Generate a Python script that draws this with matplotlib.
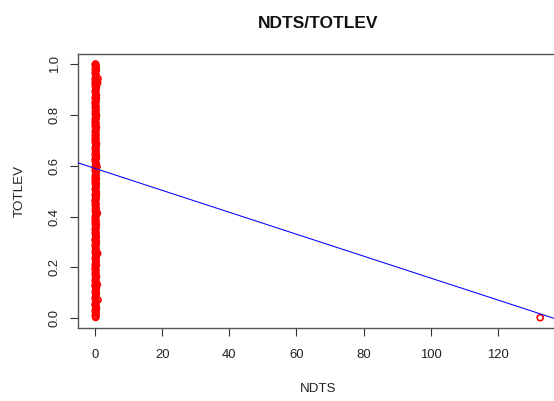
import matplotlib
matplotlib.use("Agg")
import matplotlib.pyplot as plt

plt.rcParams["font.family"] = ["Liberation Sans", "DejaVu Sans"]

# Observations clustered near NDTS = 0
totlev_col = [
    0.003, 0.011, 0.018, 0.024, 0.031, 0.042, 0.049, 0.055, 0.063, 0.071, 0.078, 0.086, 0.094, 0.101, 0.109, 0.117,
    0.126, 0.133, 0.141, 0.148, 0.157, 0.165, 0.172, 0.180, 0.188, 0.197, 0.204, 0.212, 0.221, 0.229, 0.236, 0.244,
    0.253, 0.261, 0.268, 0.277, 0.285, 0.292, 0.301, 0.309, 0.316, 0.325, 0.333, 0.341, 0.349, 0.356, 0.364, 0.373,
    0.381, 0.388, 0.397, 0.405, 0.412, 0.421, 0.429, 0.436, 0.445, 0.453, 0.461, 0.468, 0.477, 0.485, 0.493, 0.501,
    0.508, 0.517, 0.525, 0.532, 0.541, 0.549, 0.557, 0.564, 0.573, 0.581, 0.589, 0.596, 0.605, 0.613, 0.621, 0.629,
    0.636, 0.645, 0.653, 0.661, 0.668, 0.677, 0.684, 0.693, 0.701, 0.708, 0.717, 0.725, 0.733, 0.741, 0.748, 0.757,
    0.765, 0.772, 0.781, 0.789, 0.797, 0.804, 0.813, 0.821, 0.829, 0.836, 0.845, 0.853, 0.861, 0.868, 0.877, 0.885,
    0.893, 0.901, 0.908, 0.917, 0.925, 0.932, 0.941, 0.949, 0.957, 0.964, 0.973, 0.981, 0.989, 0.994, 0.998, 1.000,
]
ndts_col = [
    0.1, 0.0, 0.2, 0.1, 0.0, 0.3, 0.1, 0.0, 0.2, 0.1, 0.0, 0.1, 0.2, 0.0, 0.1, 0.3,
    0.0, 0.2, 0.1, 0.0, 0.1, 0.3, 0.0, 0.1, 0.2, 0.0, 0.1, 0.0, 0.2, 0.1, 0.0, 0.3,
    0.1, 0.0, 0.2, 0.1, 0.0, 0.1, 0.3, 0.0, 0.1, 0.2, 0.0, 0.1, 0.0, 0.2, 0.1, 0.0,
    0.2, 0.1, 0.0, 0.1, 0.3, 0.0, 0.1, 0.2, 0.0, 0.1, 0.0, 0.2, 0.1, 0.0, 0.3, 0.1,
    0.0, 0.2, 0.1, 0.0, 0.1, 0.3, 0.0, 0.1, 0.2, 0.0, 0.1, 0.0, 0.2, 0.1, 0.0, 0.3,
    0.1, 0.0, 0.2, 0.1, 0.0, 0.1, 0.3, 0.0, 0.1, 0.2, 0.0, 0.1, 0.0, 0.2, 0.1, 0.0,
    0.2, 0.1, 0.0, 0.1, 0.3, 0.0, 0.1, 0.2, 0.0, 0.1, 0.0, 0.2, 0.1, 0.0, 0.3, 0.1,
    0.0, 0.2, 0.1, 0.0, 0.1, 0.3, 0.0, 0.1, 0.2, 0.0, 0.1, 0.0, 0.2, 0.1, 0.0, 0.1,
]

# Second pass of values filling between the first
totlev_fill = [
    0.007, 0.021, 0.036, 0.052, 0.067, 0.082, 0.098, 0.113, 0.129, 0.144, 0.161, 0.176, 0.192, 0.208, 0.225, 0.240,
    0.257, 0.272, 0.289, 0.305, 0.320, 0.337, 0.353, 0.369, 0.384, 0.401, 0.417, 0.432, 0.449, 0.465, 0.481, 0.497,
    0.512, 0.529, 0.545, 0.561, 0.577, 0.592, 0.609, 0.625, 0.641, 0.657, 0.672, 0.689, 0.705, 0.721, 0.737, 0.752,
    0.769, 0.785, 0.801, 0.817, 0.832, 0.849, 0.865, 0.881, 0.897, 0.912, 0.929, 0.945, 0.961, 0.977, 0.985, 0.996,
]
ndts_fill = [
    0.2, 0.1, 0.3, 0.0, 0.2, 0.1, 0.3, 0.2, 0.0, 0.2, 0.3, 0.1, 0.0, 0.3, 0.2, 0.1,
    0.3, 0.1, 0.2, 0.0, 0.3, 0.2, 0.1, 0.3, 0.0, 0.2, 0.3, 0.1, 0.2, 0.0, 0.3, 0.2,
    0.1, 0.3, 0.0, 0.2, 0.3, 0.1, 0.2, 0.0, 0.3, 0.1, 0.2, 0.3, 0.0, 0.2, 0.1, 0.3,
    0.0, 0.2, 0.3, 0.1, 0.2, 0.0, 0.3, 0.2, 0.1, 0.3, 0.0, 0.2, 0.1, 0.3, 0.2, 0.1,
]

# A few observations slightly to the right of the main cluster
ndts_near = [0.7, 0.8, 0.6, 0.7, 0.6, 0.8, 0.5]
totlev_near = [0.925, 0.942, 0.413, 0.255, 0.132, 0.072, 0.596]

# Single large-NDTS observation
ndts_out = [132.7]
totlev_out = [0.002]

# Least-squares fit TOTLEV ~ NDTS
fit_intercept = 0.589
fit_slope = -0.00431

x_ticks = [0, 20, 40, 60, 80, 100, 120]
y_ticks = [0.0, 0.2, 0.4, 0.6, 0.8, 1.0]

fig = plt.figure(figsize=(5.54, 4.01), dpi=100)
ax = fig.add_axes([0.1399, 0.1825, 0.8673, 0.6831])

all_x = ndts_col + ndts_fill + ndts_near + ndts_out
all_y = totlev_col + totlev_fill + totlev_near + totlev_out
ax.scatter(all_x, all_y, s=19, facecolors="none", edgecolors="#ff0000",
           linewidths=1.2, zorder=2)

ax.axline((0, fit_intercept), slope=fit_slope, color="#0000ff", lw=0.75, zorder=3)

# R-style 4% padding around the data range
xmin, xmax = min(all_x), max(all_x)
ymin, ymax = min(all_y), max(all_y)
xpad = 0.04 * (xmax - xmin)
ypad = 0.04 * (ymax - ymin)
ax.set_xlim(xmin - xpad, xmax + xpad)
ax.set_ylim(ymin - ypad, ymax + ypad)

ax.set_xticks(x_ticks)
ax.set_xticklabels([str(v) for v in x_ticks])
ax.set_yticks(y_ticks)
ax.set_yticklabels([f"{v:.1f}" for v in y_ticks], rotation=90, va="center")

for sp in ax.spines.values():
    sp.set_color("#555555")
    sp.set_linewidth(1.0)

ax.tick_params(axis="both", direction="out", length=6, width=0.8,
               color="#333333", labelsize=9.4, labelcolor="#222222")
ax.tick_params(axis="x", pad=9)
ax.tick_params(axis="y", pad=6)

ax.set_title("NDTS/TOTLEV", fontsize=12.5, fontweight="bold", pad=19, color="#111111")
ax.set_xlabel("NDTS", fontsize=9.6, labelpad=16, color="#222222")
ax.set_ylabel("TOTLEV", fontsize=9.6, labelpad=17, color="#222222")

fig.savefig("out.png", dpi=100)
